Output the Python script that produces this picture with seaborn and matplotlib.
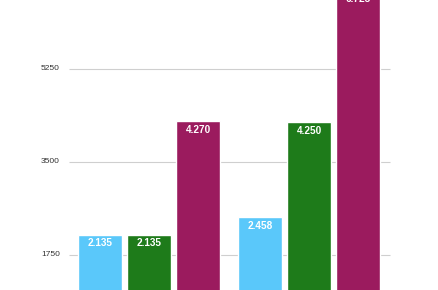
import matplotlib
matplotlib.use("Agg")
import matplotlib.pyplot as plt
import seaborn as sns
import pandas as pd

groups = ["A", "B"]
series = ["S1", "S2", "S3"]
values_s1 = [2135, 2458]
values_s2 = [2135, 4250]
values_s3 = [4270, 6725]
yticks = [1750, 3500, 5250]
colors = ["#5AC8FA", "#1E7B1A", "#9B1B5E"]

rows = []
for s, vals in zip(series, [values_s1, values_s2, values_s3]):
    for g, v in zip(groups, vals):
        rows.append({"group": g, "series": s, "value": v})
df = pd.DataFrame(rows)

sns.set_theme(style="white")
plt.rcParams["font.family"] = ["Liberation Sans", "DejaVu Sans"]

fig = plt.figure(figsize=(4.38, 2.90), dpi=100)
ax = fig.add_axes([0, 0, 1, 1])

# grid lines behind bars
ax.hlines(yticks, -0.5, 1.506, color="#CFCFCF", lw=0.8, zorder=0)

sns.barplot(data=df, x="group", y="value", hue="series", order=groups,
            hue_order=series, palette=colors, width=0.92, gap=0.1,
            saturation=1, legend=False, ax=ax, zorder=2)

for cont in ax.containers:
    for bar in cont:
        h = bar.get_height()
        txt = f"{h:,.0f}".replace(",", ".")
        ax.annotate(txt, (bar.get_x() + bar.get_width() / 2, h),
                    xytext=(0, -8.5), textcoords="offset pixels",
                    ha="center", va="center", color="white",
                    fontsize=7.2, fontweight="bold", zorder=3,
                    annotation_clip=False)

for t in yticks:
    ax.text(-0.556, t, str(t), ha="right", va="center", fontsize=6.0,
            color="#333333")

ax.set_xlim(-0.931, 1.806)
ax.set_ylim(1091, 6548)
ax.set_xticks([])
ax.set_yticks([])
ax.set_xlabel("")
ax.set_ylabel("")
for sp in ax.spines.values():
    sp.set_visible(False)

fig.savefig("out.png", dpi=100)
